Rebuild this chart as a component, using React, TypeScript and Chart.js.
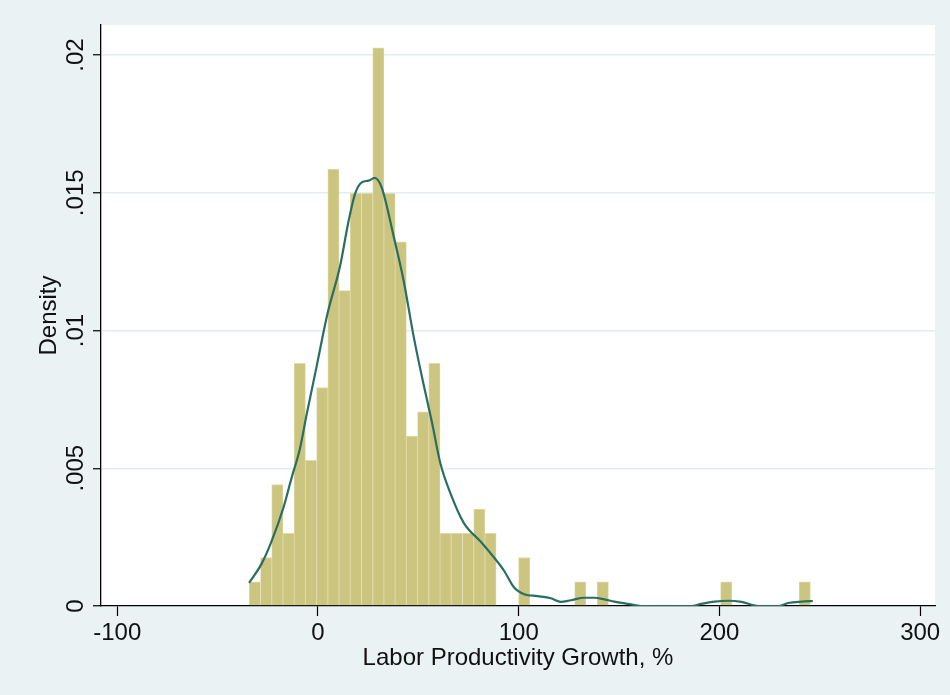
import React, { useEffect, useRef } from "react";
import { Chart, registerables } from "chart.js";

Chart.register(...registerables);

// Histogram bins (centers of non-empty bins, width ≈ 5.59) and their densities
const binCenters = [
  -31.42, -25.83, -20.24, -14.65, -9.06, -3.47, 2.12, 7.71, 13.3, 18.89, 24.48,
  30.07, 35.66, 41.25, 46.84, 52.43, 58.02, 63.61, 69.2, 74.8, 80.39, 85.98,
  102.75, 130.7, 141.88, 203.38, 242.52,
];
const binDensity = [
  0.00088, 0.00176, 0.00441, 0.00264, 0.00881, 0.00529, 0.00793, 0.01586,
  0.01145, 0.01498, 0.01498, 0.02026, 0.01498, 0.01322, 0.00617, 0.00705,
  0.00881, 0.00264, 0.00264, 0.00264, 0.00352, 0.00264, 0.00176, 0.00088,
  0.00088, 0.00088, 0.00088,
];

// Kernel density curve
const kdeX = [
  -34.3, -28.2, -23.2, -17.3, -13.2, -9, -5.7, -0.7, 4.7, 11, 15.2, 18.5, 21.8,
  25.2, 28.2, 31.8, 37.7, 42.7, 47.7, 52.7, 56.8, 61, 66, 72.7, 81, 87.7, 92.7,
  97.7, 102.7, 109.3, 116, 121, 126, 132.7, 137.7, 142.7, 147.7, 154.3, 161,
  186, 191, 197.7, 204.3, 211, 219.3, 229.3, 234.3, 241, 246.5,
];
const kdeY = [
  0.00084, 0.00152, 0.00234, 0.00355, 0.00464, 0.00571, 0.00693, 0.00869,
  0.0106, 0.01234, 0.01396, 0.01497, 0.01538, 0.01544, 0.01554, 0.01518,
  0.01342, 0.0118, 0.00977, 0.00801, 0.00666, 0.00517, 0.00409, 0.00301,
  0.00234, 0.00176, 0.00128, 0.00067, 0.00043, 0.00036, 0.00028, 0.00015,
  0.00021, 0.0003, 0.0003, 0.00024, 0.00016, 0.00008, 0, 0, 0.00008, 0.00016,
  0.00019, 0.00015, 0, 0, 0.00011, 0.00016, 0.00018,
];

const xTickValues = [-100, 0, 100, 200, 300];
const xTickLabels = ["-100", "0", "100", "200", "300"];
const yTickValues = [0, 0.005, 0.01, 0.015, 0.02];
const yTickLabels = ["0", ".005", ".01", ".015", ".02"];
const xTitle = "Labor Productivity Growth, %";
const yTitle = "Density";

const FONT = "'Liberation Sans', Arial, Helvetica, sans-serif";
const TEXT = "#111111";

export default function App() {
  const ref = useRef<HTMLCanvasElement>(null);

  useEffect(() => {
    const canvas = ref.current;
    if (!canvas) return;

    const decor = {
      id: "decor",
      beforeDraw(chart: any) {
        const { ctx, chartArea: a, width, height } = chart;
        ctx.save();
        ctx.fillStyle = "#EAF2F3";
        ctx.fillRect(0, 0, width, height);
        ctx.fillStyle = "#FFFFFF";
        ctx.fillRect(a.left, a.top, a.right - a.left, a.bottom - a.top);
        ctx.restore();
      },
      afterDraw(chart: any) {
        const { ctx, chartArea: a } = chart;
        const ys = chart.scales.y;
        ctx.save();
        ctx.fillStyle = TEXT;
        ctx.font = `24px ${FONT}`;
        ctx.textAlign = "center";
        ctx.textBaseline = "alphabetic";
        yTickValues.forEach((v, i) => {
          const py = ys.getPixelForValue(v);
          ctx.save();
          ctx.translate(ys.right - 18, py);
          ctx.rotate(-Math.PI / 2);
          ctx.fillText(yTickLabels[i], 0, 0);
          ctx.restore();
        });
        ctx.save();
        ctx.translate(ys.right - 45, (a.top + a.bottom) / 2);
        ctx.rotate(-Math.PI / 2);
        ctx.fillText(yTitle, 0, 0);
        ctx.restore();
        ctx.restore();
      },
    };

    const chart = new Chart(canvas, {
      type: "bar",
      data: {
        datasets: [
          {
            type: "line",
            data: kdeX.map((x, i) => ({ x, y: kdeY[i] })),
            borderColor: "#2A6E63",
            borderWidth: 2.2,
            pointRadius: 0,
            cubicInterpolationMode: "monotone",
            fill: false,
            order: 0,
          } as any,
          {
            type: "bar",
            data: binCenters.map((x, i) => ({ x, y: binDensity[i] })),
            backgroundColor: "rgb(204,197,128)",
            borderColor: "rgb(224,219,170)",
            borderWidth: { left: 0.8, right: 0.8, top: 1, bottom: 0 },
            borderSkipped: false,
            barPercentage: 1,
            categoryPercentage: 1,
            order: 1,
          } as any,
        ],
      },
      options: {
        animation: false,
        responsive: false,
        layout: { padding: { left: 0, right: 15, top: 25, bottom: 0 } },
        plugins: {
          legend: { display: false },
          tooltip: { enabled: false },
        },
        scales: {
          x: {
            type: "linear",
            min: -108.1,
            max: 307.4,
            offset: false,
            grid: {
              display: true,
              drawOnChartArea: false,
              drawTicks: true,
              tickLength: 10,
              tickColor: "#000",
              tickWidth: 1.2,
              offset: false,
            },
            border: { display: true, color: "#000", width: 1.3 },
            ticks: {
              includeBounds: false,
              autoSkip: false,
              maxRotation: 0,
              minRotation: 0,
              padding: 3,
              color: TEXT,
              font: { size: 24, family: FONT },
              callback: (_v: any, i: number) => xTickLabels[i],
            },
            afterBuildTicks: (s: any) => {
              s.ticks = xTickValues.map((v) => ({ value: v }));
            },
            afterFit: (s: any) => {
              s.height = 89;
            },
            title: {
              display: true,
              text: xTitle,
              color: TEXT,
              font: { size: 24, family: FONT },
              padding: { top: 0, bottom: 22 },
            },
          },
          y: {
            type: "linear",
            min: 0,
            max: 0.02109,
            grid: {
              display: true,
              drawOnChartArea: true,
              drawTicks: true,
              tickLength: 8,
              tickColor: "#000",
              tickWidth: 1.2,
              lineWidth: 1.5,
              color: (c: any) =>
                c.tick && c.tick.value === 0 ? "rgba(0,0,0,0)" : "#E3EDF0",
            },
            border: { display: true, color: "#000", width: 1.3 },
            ticks: { display: false, includeBounds: false },
            afterBuildTicks: (s: any) => {
              s.ticks = yTickValues.map((v) => ({ value: v }));
            },
            afterFit: (s: any) => {
              s.width = 101;
            },
          },
        },
      } as any,
      plugins: [decor],
    });

    return () => chart.destroy();
  }, []);

  return (
    <div style={{ position: "absolute", left: 0, top: 0, width: 950, height: 695 }}>
      <canvas ref={ref} width={950} height={695} />
    </div>
  );
}
